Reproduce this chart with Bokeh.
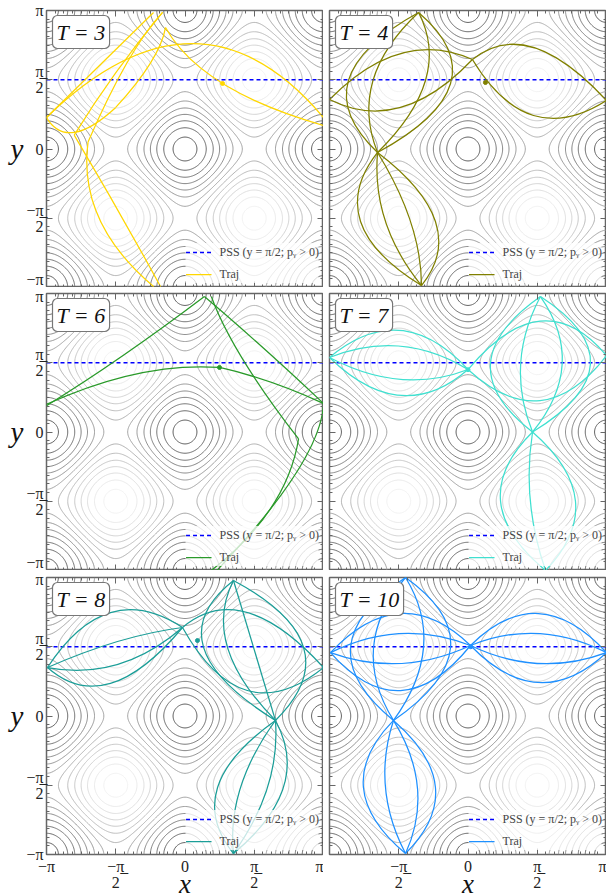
import numpy as np
from bokeh.plotting import figure
from bokeh.layouts import column, row
from bokeh.models import FixedTicker, Label, Legend, LegendItem, Range1d, LinearAxis
from bokeh.embed import file_html
from bokeh.resources import INLINE

PI = np.pi
FONT = "Liberation Serif"

# ---------------- data (positions in units of pi) ----------------
periods = [3, 4, 6, 7, 8, 10]
traj_colors = ["#FFD700", "#808000", "#2A9A2A", "#40E0D0", "#1B9E98", "#1E90FF"]
axis_lim = [-1.0, 1.0]
pss_level = 0.5
tick_pos = [-1.0, -0.5, 0.0, 0.5, 1.0]
tick_lab = ["\u2212\u03c0", "\u2212\u03c0\u0332\n2", "0", "\u03c0\u0332\n2", "\u03c0"]
contour_levels = [-1.857, -1.571, -1.286, -1.0, -0.714, -0.429, -0.143,
                  0.143, 0.429, 0.714, 1.0, 1.286, 1.571, 1.857]

# trajectory arcs: (x_start, y_start, x_mid, y_mid, x_end, y_end)
arcs_T3 = [
    (-1.0, 0.227, -0.62, 0.60, -0.227, 0.986),
    (-1.0, 0.227, 0.05, 0.76, 1.0, 0.227),
    (-1.0, 0.227, -0.80, 0.12, -0.50, 0.30),
    (-0.50, 0.30, -0.25, 0.62, -0.141, 0.877),
    (-0.141, 0.877, 0.271, 0.473, 1.0, 0.170),
    (-0.162, 0.986, -0.42, 0.62, -0.70, 0.05),
    (-0.70, 0.05, -0.62, -0.50, -0.227, -0.993),
    (-0.80, 0.10, -0.48, -0.45, -0.177, -0.993),
    (-0.80, 0.10, -0.50, 0.55, -0.162, 0.986),
]
arcs_T4 = [
    (-1.0, 0.357, -0.486, 0.69, 0.032, 0.646),
    (-1.0, 0.357, -0.486, 0.30, 0.032, 0.646),
    (0.032, 0.646, 0.473, 0.733, 1.0, 0.350),
    (0.032, 0.646, 0.473, 0.242, 1.0, 0.350),
    (-0.357, 0.986, -0.863, 0.495, -0.653, -0.025),
    (-0.357, 0.986, -0.686, 0.495, -0.653, -0.025),
    (-0.357, 0.986, -0.307, 0.495, -0.653, -0.025),
    (-0.357, 0.986, -0.126, 0.473, -0.653, -0.025),
    (-0.653, -0.025, -0.776, -0.523, -0.336, -0.986),
    (-0.653, -0.025, -0.596, -0.523, -0.336, -0.986),
    (-0.653, -0.025, -0.415, -0.523, -0.336, -0.986),
    (-0.653, -0.025, -0.235, -0.523, -0.336, -0.986),
]
arcs_T6 = [
    (-1.0, 0.19, -0.45, 0.55, 0.14, 0.978),
    (-1.0, 0.20, -0.35, 0.42, 0.25, 0.466),
    (0.25, 0.466, 0.62, 0.36, 1.0, 0.206),
    (0.14, 0.978, 0.55, 0.62, 1.0, 0.206),
    (0.19, 0.978, 0.42, 0.52, 0.82, -0.05),
    (0.82, -0.05, 0.62, -0.55, 0.19, -1.0),
    (1.0, 0.206, 0.80, -0.30, 0.23, -1.0),
]
arcs_T7 = [
    (-1.0, 0.538, -0.49, 0.733, 0.0, 0.451),
    (-1.0, 0.538, -0.49, 0.264, 0.0, 0.451),
    (-1.0, 0.538, -0.49, 0.62, 0.0, 0.451),
    (-1.0, 0.538, -0.49, 0.38, 0.0, 0.451),
    (0.0, 0.451, 0.52, 0.80, 1.0, 0.552),
    (0.0, 0.451, 0.52, 0.227, 1.0, 0.552),
    (0.523, 0.978, 0.162, 0.49, 0.466, 0.0),
    (0.523, 0.978, 0.884, 0.49, 0.466, 0.0),
    (0.523, 0.978, 0.38, 0.49, 0.466, 0.0),
    (0.523, 0.978, 0.68, 0.49, 0.466, 0.0),
    (0.466, 0.0, 0.235, -0.5, 0.560, -1.0),
    (0.466, 0.0, 0.776, -0.5, 0.560, -1.0),
    (0.466, 0.0, 0.45, -0.5, 0.560, -1.0),
]
arcs_T8 = [
    (-0.993, 0.35, -0.538, 0.747, -0.018, 0.639),
    (-0.993, 0.35, -0.538, 0.235, -0.018, 0.639),
    (-0.993, 0.35, -0.487, 0.538, -0.018, 0.639),
    (-0.993, 0.35, -0.487, 0.372, -0.018, 0.639),
    (-0.018, 0.639, 0.45, 0.747, 1.0, 0.35),
    (-0.018, 0.639, 0.45, 0.184, 1.0, 0.35),
    (0.350, 0.978, 0.134, 0.495, 0.653, -0.032),
    (0.350, 0.978, 0.307, 0.495, 0.653, -0.032),
    (0.350, 0.978, 0.495, 0.495, 0.653, -0.032),
    (0.350, 0.978, 0.856, 0.495, 0.653, -0.032),
    (0.653, -0.032, 0.235, -0.516, 0.350, -0.993),
    (0.653, -0.032, 0.401, -0.516, 0.350, -0.993),
    (0.653, -0.032, 0.596, -0.516, 0.350, -0.993),
    (0.653, -0.032, 0.711, -0.516, 0.350, -0.993),
]
arcs_T10 = [
    (-0.993, 0.458, -0.487, 0.740, 0.018, 0.509),
    (-0.993, 0.458, -0.487, 0.596, 0.018, 0.509),
    (-0.993, 0.458, -0.487, 0.379, 0.018, 0.509),
    (-0.993, 0.458, -0.487, 0.184, 0.018, 0.509),
    (0.018, 0.509, 0.509, 0.740, 1.0, 0.458),
    (0.018, 0.509, 0.509, 0.596, 1.0, 0.458),
    (0.018, 0.509, 0.509, 0.379, 1.0, 0.458),
    (0.018, 0.509, 0.509, 0.242, 1.0, 0.458),
    (-0.451, 1.0, -0.848, 0.495, -0.538, -0.032),
    (-0.451, 1.0, -0.682, 0.495, -0.538, -0.032),
    (-0.451, 1.0, -0.321, 0.495, -0.538, -0.032),
    (-0.451, 1.0, -0.126, 0.495, -0.538, -0.032),
    (-0.538, -0.032, -0.755, -0.516, -0.451, -0.993),
    (-0.538, -0.032, -0.596, -0.516, -0.451, -0.993),
    (-0.538, -0.032, -0.365, -0.516, -0.451, -0.993),
    (-0.538, -0.032, -0.235, -0.516, -0.451, -0.993),
]
all_arcs = [arcs_T3, arcs_T4, arcs_T6, arcs_T7, arcs_T8, arcs_T10]
start_x = [0.271, 0.126, 0.249, 0.0, 0.09, 0.02]
start_y = [0.473, 0.480, 0.466, 0.45, 0.545, 0.5]

# ---------------- potential field for the contour background ----------------
grid = np.linspace(-PI, PI, 301)
GX, GY = np.meshgrid(grid, grid)
field = np.cos(2 * GX) + np.cos(2 * GY)


def gray_hex(level):
    g = int(round(min(240, max(70, 160 - 46 * level))))
    return "#%02x%02x%02x" % (g, g, g)


contour_colors = [gray_hex(l) for l in contour_levels]

ticks = [t * PI for t in tick_pos]
minor = list(np.arange(-16, 17) * PI / 16)
FRAME = 277


def style_axis(ax, labels=None):
    ax.ticker = FixedTicker(ticks=ticks, minor_ticks=minor)
    ax.axis_line_color = None
    ax.major_tick_in = 6
    ax.major_tick_out = 0
    ax.minor_tick_in = 3
    ax.minor_tick_out = 0
    ax.major_tick_line_color = "#666666"
    ax.minor_tick_line_color = "#666666"
    if labels is None:
        ax.major_label_overrides = {t: "" for t in ticks}
        ax.major_label_text_font_size = "0px"
        ax.major_label_standoff = 0
    else:
        ax.major_label_overrides = labels
        ax.major_label_text_font = FONT
        ax.major_label_text_font_size = "16px"
        ax.major_label_text_line_height = 0.95
        ax.major_label_text_color = "#222222"
        ax.major_label_standoff = 3


def make_panel(k, r, c):
    T = periods[k]
    color = traj_colors[k]
    left = c == 0
    bottom = r == 2
    p = figure(frame_width=FRAME, frame_height=FRAME,
               x_range=Range1d(axis_lim[0] * PI, axis_lim[1] * PI),
               y_range=Range1d(axis_lim[0] * PI, axis_lim[1] * PI),
               output_backend="svg", toolbar_location=None,
               min_border_left=46 if left else 6, min_border_right=0,
               min_border_top=[10, 6, 7][r], min_border_bottom=41 if bottom else 0,
               background_fill_color="white", border_fill_color="white")
    p.grid.visible = False
    p.outline_line_color = "#666666"
    p.outline_line_width = 1.5

    p.contour(x=grid, y=grid, z=field, levels=contour_levels,
              line_color=contour_colors, line_width=0.9)

    pss = p.line(x=[axis_lim[0] * PI, axis_lim[1] * PI], y=[pss_level * PI] * 2,
                 line_color="#0000ff", line_dash="4 3", line_width=1.4)

    a = np.array(all_arcs[k]) * PI
    x0, y0, xm, ym, x1, y1 = a.T
    p.quadratic(x0=x0, y0=y0, x1=x1, y1=y1,
                cx=2 * xm - (x0 + x1) / 2, cy=2 * ym - (y0 + y1) / 2,
                line_color=color, line_width=1.25)
    p.scatter([start_x[k] * PI], [start_y[k] * PI], size=4, color=color)
    proxy = p.line(x=[start_x[k] * PI], y=[start_y[k] * PI], line_color=color, line_width=1.25)

    lab_map = {t * PI: s for t, s in zip(tick_pos, tick_lab)}
    if bottom:
        xl = dict(lab_map)
        if not left:
            xl[-PI] = ""
        style_axis(p.xaxis[0], xl)
        p.xaxis.axis_label = "x"
        p.xaxis.axis_label_text_font = FONT
        p.xaxis.axis_label_text_font_style = "italic"
        p.xaxis.axis_label_text_font_size = "27px"
        p.xaxis.axis_label_standoff = -25
        p.xaxis.axis_label_text_color = "#111111"
    else:
        style_axis(p.xaxis[0])
    if left:
        style_axis(p.yaxis[0], dict(lab_map))
        p.yaxis.axis_label = "y"
        p.yaxis.axis_label_orientation = "horizontal"
        p.yaxis.axis_label_text_font = FONT
        p.yaxis.axis_label_text_font_style = "italic"
        p.yaxis.axis_label_text_font_size = "29px"
        p.yaxis.axis_label_standoff = 0
        p.yaxis.axis_label_text_color = "#111111"
    else:
        style_axis(p.yaxis[0])
    top_ax = LinearAxis()
    style_axis(top_ax)
    p.add_layout(top_ax, "above")
    right_ax = LinearAxis()
    style_axis(right_ax)
    p.add_layout(right_ax, "right")

    legend = Legend(items=[LegendItem(label="PSS (y = \u03c0/2; p\u1d67 > 0)", renderers=[pss]),
                           LegendItem(label="Traj", renderers=[proxy])],
                    location="bottom_right", background_fill_color="white",
                    background_fill_alpha=0.75, border_line_color=None,
                    label_text_font=FONT, label_text_font_size="12px",
                    label_text_color="#444444", glyph_width=26, glyph_height=18,
                    spacing=4, padding=6, margin=4, label_standoff=8)
    p.add_layout(legend)

    p.add_layout(Label(x=axis_lim[0] * PI, y=axis_lim[1] * PI, x_offset=6, y_offset=-5,
                       text="T = %d" % T, text_font=FONT, text_font_style="italic",
                       text_font_size="22px", text_baseline="top", text_align="left",
                       text_color="#111111", background_fill_color="white",
                       border_line_color="#777777", border_line_width=1.2,
                       padding=4, border_radius=5))
    return p


k = 0
rows = []
for r in range(3):
    cells = []
    for c in range(2):
        cells.append(make_panel(k, r, c))
        k += 1
    rows.append(row(*cells))
layout = column(*rows)

open("out.html", "w").write(file_html(layout, INLINE))
